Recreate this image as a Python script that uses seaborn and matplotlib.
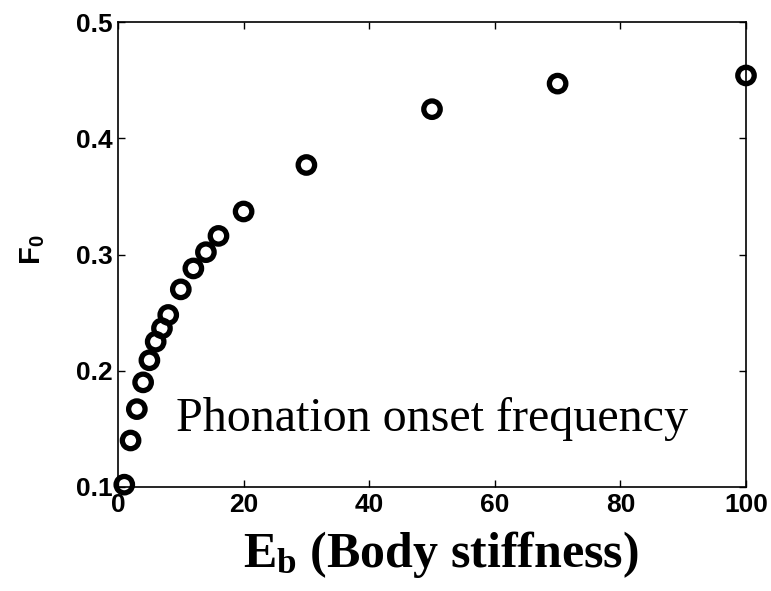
import matplotlib
matplotlib.use("Agg")
import matplotlib.pyplot as plt
import seaborn as sns
import pandas as pd

# Data
eb = [1, 2, 3, 4, 5, 6, 7, 8, 10, 12, 14, 16, 20, 30, 50, 70, 100]
f0 = [0.102, 0.140, 0.167, 0.190, 0.209, 0.225, 0.2365, 0.248, 0.270, 0.288,
      0.302, 0.316, 0.337, 0.377, 0.425, 0.447, 0.454]
xticks = [0, 20, 40, 60, 80, 100]
yticks = [0.1, 0.2, 0.3, 0.4, 0.5]
annotation = "Phonation onset frequency"

sns.set_style("ticks")
plt.rcParams["font.family"] = ["Liberation Sans", "DejaVu Sans"]
plt.rcParams["text.color"] = "black"
plt.rcParams["axes.labelcolor"] = "black"
plt.rcParams["xtick.color"] = "black"
plt.rcParams["ytick.color"] = "black"
plt.rcParams["mathtext.fontset"] = "custom"
plt.rcParams["mathtext.bf"] = "Liberation Serif:bold"
plt.rcParams["mathtext.rm"] = "Liberation Serif"
plt.rcParams["mathtext.sf"] = "Liberation Sans:bold"

df = pd.DataFrame({"Eb": eb, "F0": f0})

fig = plt.figure(figsize=(7.71, 5.91), dpi=100)
ax = fig.add_axes([118 / 771, 1 - 487 / 591, (746 - 118) / 771, (487 - 22) / 591])

sns.scatterplot(data=df, x="Eb", y="F0", ax=ax, marker="o", s=140,
                facecolors="none", edgecolor="black", linewidth=3.8,
                clip_on=False, zorder=5)

ax.set_xlim(0, 100)
ax.set_ylim(0.1, 0.5)
ax.set_xticks(xticks)
ax.set_yticks(yticks)
ax.set_xticklabels([str(t) for t in xticks], fontsize=19, fontweight="bold")
ax.set_yticklabels([f"{t:.1f}" for t in yticks], fontsize=19, fontweight="bold")
ax.tick_params(direction="in", length=5, width=1, top=True, right=True, pad=4)
for sp in ax.spines.values():
    sp.set_linewidth(1.2)
    sp.set_color("black")

ax.set_xlabel(r"$\mathbf{E_b}$ (Body stiffness)", fontsize=36,
              fontfamily="Liberation Serif", fontweight="bold")
ax.xaxis.set_label_coords(0.514, -0.09)
ax.set_ylabel(r"$\mathsf{F_0}$", fontsize=21, fontweight="bold")
ax.yaxis.set_label_coords(-0.113, 0.51)

ax.text(9.3, 0.148, annotation, fontsize=34.6, fontfamily="Liberation Serif",
        ha="left", va="baseline")

fig.savefig("out.png", dpi=100)
